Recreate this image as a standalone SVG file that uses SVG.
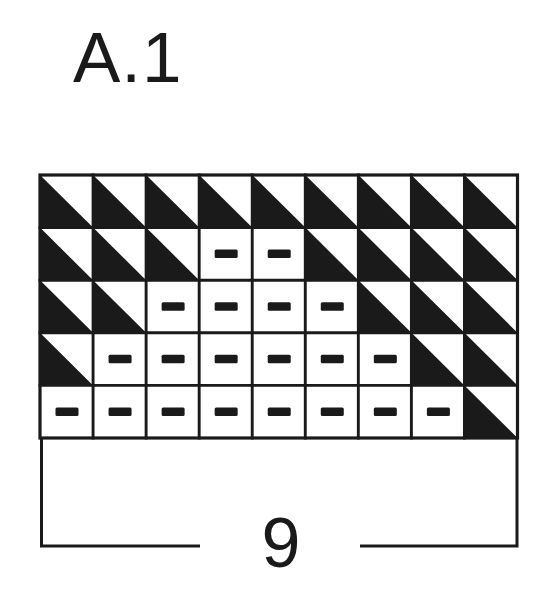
<svg xmlns="http://www.w3.org/2000/svg" xmlns:xlink="http://www.w3.org/1999/xlink" width="550" height="610" viewBox="0 0 550 610">
  <style>
    .lbl { font-family: "Liberation Sans", Arial, sans-serif; fill: #1a1a1a; }
    .grid { stroke: #1a1a1a; stroke-width: 2.9; fill: none; stroke-linecap: square; }
    .frame { stroke: #1a1a1a; stroke-width: 3; fill: none; }
    .blk { fill: #1a1a1a; }
  </style>
  <defs>
    <polygon id="tri" class="blk" points="0,0 0,52.6 53.06,52.6"/>
    <rect id="dash" class="blk" x="15.5" y="22" width="23" height="8.5" rx="1.5"/>
  </defs>
  <rect width="550" height="610" fill="#ffffff"/>
  <text id="title" class="lbl" x="73" y="82" font-size="71" letter-spacing="1">A.1</text>

  <g id="row1">
    <use xlink:href="#tri" x="40" y="175"/>
    <use xlink:href="#tri" x="93.06" y="175"/>
    <use xlink:href="#tri" x="146.11" y="175"/>
    <use xlink:href="#tri" x="199.17" y="175"/>
    <use xlink:href="#tri" x="252.22" y="175"/>
    <use xlink:href="#tri" x="305.28" y="175"/>
    <use xlink:href="#tri" x="358.33" y="175"/>
    <use xlink:href="#tri" x="411.39" y="175"/>
    <use xlink:href="#tri" x="464.44" y="175"/>
  </g>
  <g id="row2">
    <use xlink:href="#tri" x="40" y="227.6"/>
    <use xlink:href="#tri" x="93.06" y="227.6"/>
    <use xlink:href="#tri" x="146.11" y="227.6"/>
    <use xlink:href="#dash" x="199.17" y="227.6"/>
    <use xlink:href="#dash" x="252.22" y="227.6"/>
    <use xlink:href="#tri" x="305.28" y="227.6"/>
    <use xlink:href="#tri" x="358.33" y="227.6"/>
    <use xlink:href="#tri" x="411.39" y="227.6"/>
    <use xlink:href="#tri" x="464.44" y="227.6"/>
  </g>
  <g id="row3">
    <use xlink:href="#tri" x="40" y="280.2"/>
    <use xlink:href="#tri" x="93.06" y="280.2"/>
    <use xlink:href="#dash" x="146.11" y="280.2"/>
    <use xlink:href="#dash" x="199.17" y="280.2"/>
    <use xlink:href="#dash" x="252.22" y="280.2"/>
    <use xlink:href="#dash" x="305.28" y="280.2"/>
    <use xlink:href="#tri" x="358.33" y="280.2"/>
    <use xlink:href="#tri" x="411.39" y="280.2"/>
    <use xlink:href="#tri" x="464.44" y="280.2"/>
  </g>
  <g id="row4">
    <use xlink:href="#tri" x="40" y="332.8"/>
    <use xlink:href="#dash" x="93.06" y="332.8"/>
    <use xlink:href="#dash" x="146.11" y="332.8"/>
    <use xlink:href="#dash" x="199.17" y="332.8"/>
    <use xlink:href="#dash" x="252.22" y="332.8"/>
    <use xlink:href="#dash" x="305.28" y="332.8"/>
    <use xlink:href="#dash" x="358.33" y="332.8"/>
    <use xlink:href="#tri" x="411.39" y="332.8"/>
    <use xlink:href="#tri" x="464.44" y="332.8"/>
  </g>
  <g id="row5">
    <use xlink:href="#dash" x="40" y="385.4"/>
    <use xlink:href="#dash" x="93.06" y="385.4"/>
    <use xlink:href="#dash" x="146.11" y="385.4"/>
    <use xlink:href="#dash" x="199.17" y="385.4"/>
    <use xlink:href="#dash" x="252.22" y="385.4"/>
    <use xlink:href="#dash" x="305.28" y="385.4"/>
    <use xlink:href="#dash" x="358.33" y="385.4"/>
    <use xlink:href="#dash" x="411.39" y="385.4"/>
    <use xlink:href="#tri" x="464.44" y="385.4"/>
  </g>

  <g id="gridlines" class="grid">
    <path d="M93.06,175V438 M146.11,175V438 M199.17,175V438 M252.22,175V438 M305.28,175V438 M358.33,175V438 M411.39,175V438 M464.44,175V438"/>
    <path d="M40,227.6H517.5 M40,280.2H517.5 M40,332.8H517.5 M40,385.4H517.5"/>
    <rect x="40" y="175" width="477.5" height="263" stroke-width="3.2"/>
  </g>

  <g id="width-bracket" class="frame">
    <path d="M41.5,438V546H200"/>
    <path d="M517,438V546H360"/>
  </g>
  <text id="count" class="lbl" x="281" y="567" font-size="70" text-anchor="middle">9</text>
</svg>
